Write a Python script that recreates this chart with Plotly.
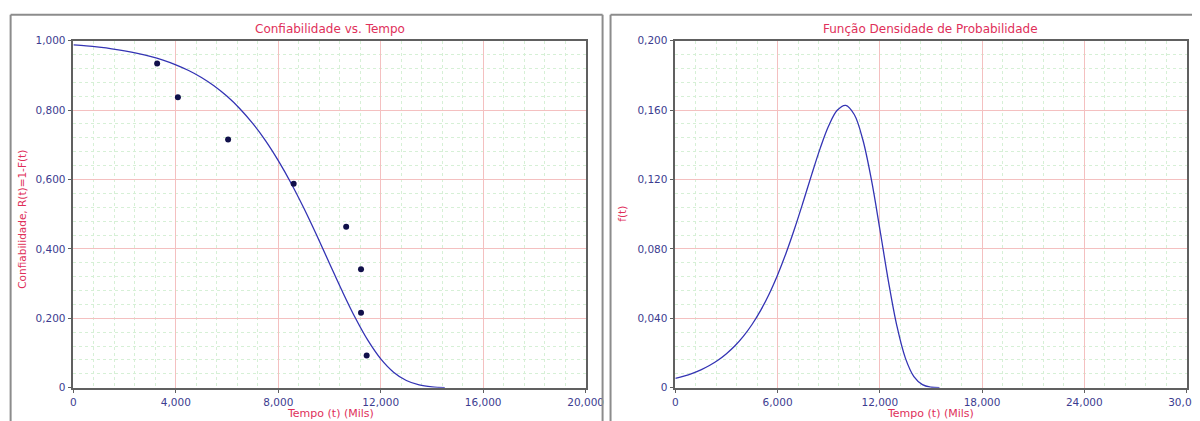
import plotly.graph_objects as go

# ---------------- data ----------------
# observed points (reliability plot)
pts_t = [3270, 4080, 6040, 8600, 10650, 11230, 11230, 11450]
pts_R = [0.934, 0.837, 0.715, 0.588, 0.464, 0.341, 0.216, 0.093]

# fitted reliability curve
curve_t = [0, 500, 1000, 1500, 2000, 2500, 3000, 3500, 4000, 4500, 5000,
           5500, 6000, 6500, 7000, 7500, 8000, 8500, 9000, 9500, 10000,
           10500, 11000, 11500, 12000, 12500, 13000, 13500, 14000, 14500]
curve_R = [0.9878, 0.9848, 0.9810, 0.9764, 0.9706, 0.9635, 0.9547, 0.9438,
           0.9303, 0.9139, 0.8937, 0.8692, 0.8395, 0.8039, 0.7617, 0.7121,
           0.6544, 0.5893, 0.5170, 0.4392, 0.3581, 0.2777, 0.2022, 0.1362,
           0.0831, 0.0449, 0.0208, 0.0080, 0.0024, 0.0005]

# probability density curve
pdf_t = [0, 500, 1000, 1500, 2000, 2500, 3000, 3500, 4000, 4500, 5000,
         5500, 6000, 6500, 7000, 7500, 8000, 8500, 9000, 9500, 10000,
         10500, 11000, 11500, 12000, 12500, 13000, 13500, 14000, 14500,
         15000, 15500]
pdf_f = [0.00538, 0.00669, 0.00831, 0.01031, 0.01280, 0.01585, 0.01959,
         0.02416, 0.02973, 0.03643, 0.04444, 0.05391, 0.06500, 0.07764,
         0.09176, 0.10700, 0.12278, 0.13791, 0.15092, 0.15990, 0.16271,
         0.15743, 0.14303, 0.12015, 0.09145, 0.06162, 0.03565, 0.01707,
         0.00644, 0.00180, 0.00035, 0.00005]

# tick labels
left_xvals = [0, 4000, 8000, 12000, 16000, 20000]
left_xtext = ["0", "4,000", "8,000", "12,000", "16,000", "20,000"]
left_yvals = [0, 0.2, 0.4, 0.6, 0.8, 1.0]
left_ytext = ["0", "0,200", "0,400", "0,600", "0,800", "1,000"]
right_xvals = [0, 6000, 12000, 18000, 24000, 30000]
right_xtext = ["0", "6,000", "12,000", "18,000", "24,000", "30,000"]
right_yvals = [0, 0.04, 0.08, 0.12, 0.16, 0.20]
right_ytext = ["0", "0,040", "0,080", "0,120", "0,160", "0,200"]

title_left = "Confiabilidade vs. Tempo"
title_right = "Função Densidade de Probabilidade"
xlabel = "Tempo (t) (Mils)"
ylabel_left = "Confiabilidade, R(t)=1-F(t)"
ylabel_right = "f(t)"

# ---------------- layout geometry ----------------
# target positions are given in picture pixels; the capture shrinks the page
# slightly, so convert picture pixels to page pixels first
OFF = 8                    # default body margin of the page
AXX, BX = 1.5, 0.986       # picture_x = AXX + BX * page_x
AXY, BY = 4.5, 0.974       # picture_y = AXY + BY * page_y
W = int(round((1200 - AXX) / BX)) - OFF
H = int(round((421 - AXY) / BY)) - OFF

FONT = "DejaVu Sans"
RED = "#e0305a"
TICK = "#3c3c90"
LINE = "#3434b4"
MAJ = "#f4c0c0"
MIN = "#d6f0d6"
AX = "#606060"


def px(x):
    return ((x - AXX) / BX - OFF) / W


def py(y):
    return 1 - ((y - AXY) / BY - OFF) / H


fig = go.Figure()

fig.add_trace(go.Scatter(x=curve_t, y=curve_R, mode="lines", line=dict(color=LINE, width=1.3, shape="spline"),
                         xaxis="x", yaxis="y", showlegend=False))
fig.add_trace(go.Scatter(x=pts_t, y=pts_R, mode="markers", marker=dict(color="#10104a", size=6),
                         xaxis="x", yaxis="y", showlegend=False))
fig.add_trace(go.Scatter(x=pdf_t, y=pdf_f, mode="lines", line=dict(color=LINE, width=1.3, shape="spline"),
                         xaxis="x2", yaxis="y2", showlegend=False))


def axis(domain, vals, text, rng, minor_dtick, anchor):
    return dict(domain=domain, range=rng, tickmode="array", tickvals=vals, ticktext=text,
                showgrid=True, gridcolor=MAJ, gridwidth=1, zeroline=False,
                showline=True, linecolor=AX, linewidth=1.5, mirror=True,
                ticks="outside", ticklen=4, tickcolor=AX,
                tickfont=dict(family=FONT, size=10.5, color=TICK),
                minor=dict(tickmode="linear", tick0=0, dtick=minor_dtick, showgrid=True,
                           gridcolor=MIN, griddash="dot", gridwidth=1),
                anchor=anchor, fixedrange=True)


ydom = [py(387), py(39)]
fig.update_layout(
    width=W, height=H, margin=dict(l=0, r=0, t=0, b=0),
    paper_bgcolor="white", plot_bgcolor="white",
    xaxis=axis([px(72), px(586)], left_xvals, left_xtext, [0, 20000], 800, "y"),
    yaxis=axis(ydom, left_yvals, left_ytext, [0, 1.0], 0.04, "x"),
    xaxis2=axis([px(676), px(1189)], right_xvals, right_xtext, [0, 30000], 1200, "y2"),
    yaxis2=axis(ydom, right_yvals, right_ytext, [0, 0.2], 0.008, "x2"),
)

ann = [
    dict(text=title_left, x=px(329), y=py(27), size=12),
    dict(text=title_right, x=px(932), y=py(27), size=12),
    dict(text=xlabel, x=px(330), y=py(413), size=11),
    dict(text=xlabel, x=px(932), y=py(413), size=11),
    dict(text=ylabel_left, x=px(21), y=py(218), textangle=-90, size=10.5),
    dict(text=ylabel_right, x=px(623), y=py(213), textangle=-90, size=10.5),
]
for a in ann:
    size = a.pop("size")
    fig.add_annotation(xref="paper", yref="paper", showarrow=False,
                       xanchor="center", yanchor="middle",
                       font=dict(family=FONT, size=size, color=RED), **a)

# panel frames
FR = "#8c8c8c"
frames = [
    (9, 13, 9, 421), (9, 13, 603, 13), (603, 13, 603, 421),
    (611, 13, 611, 421), (611, 13, 1200, 13),
]
for x0, y0, x1, y1 in frames:
    fig.add_shape(type="line", xref="paper", yref="paper",
                  x0=px(x0), y0=py(y0), x1=px(x1), y1=py(y1),
                  line=dict(color=FR, width=2))

fig.write_html("out.html", config={"displayModeBar": False})
